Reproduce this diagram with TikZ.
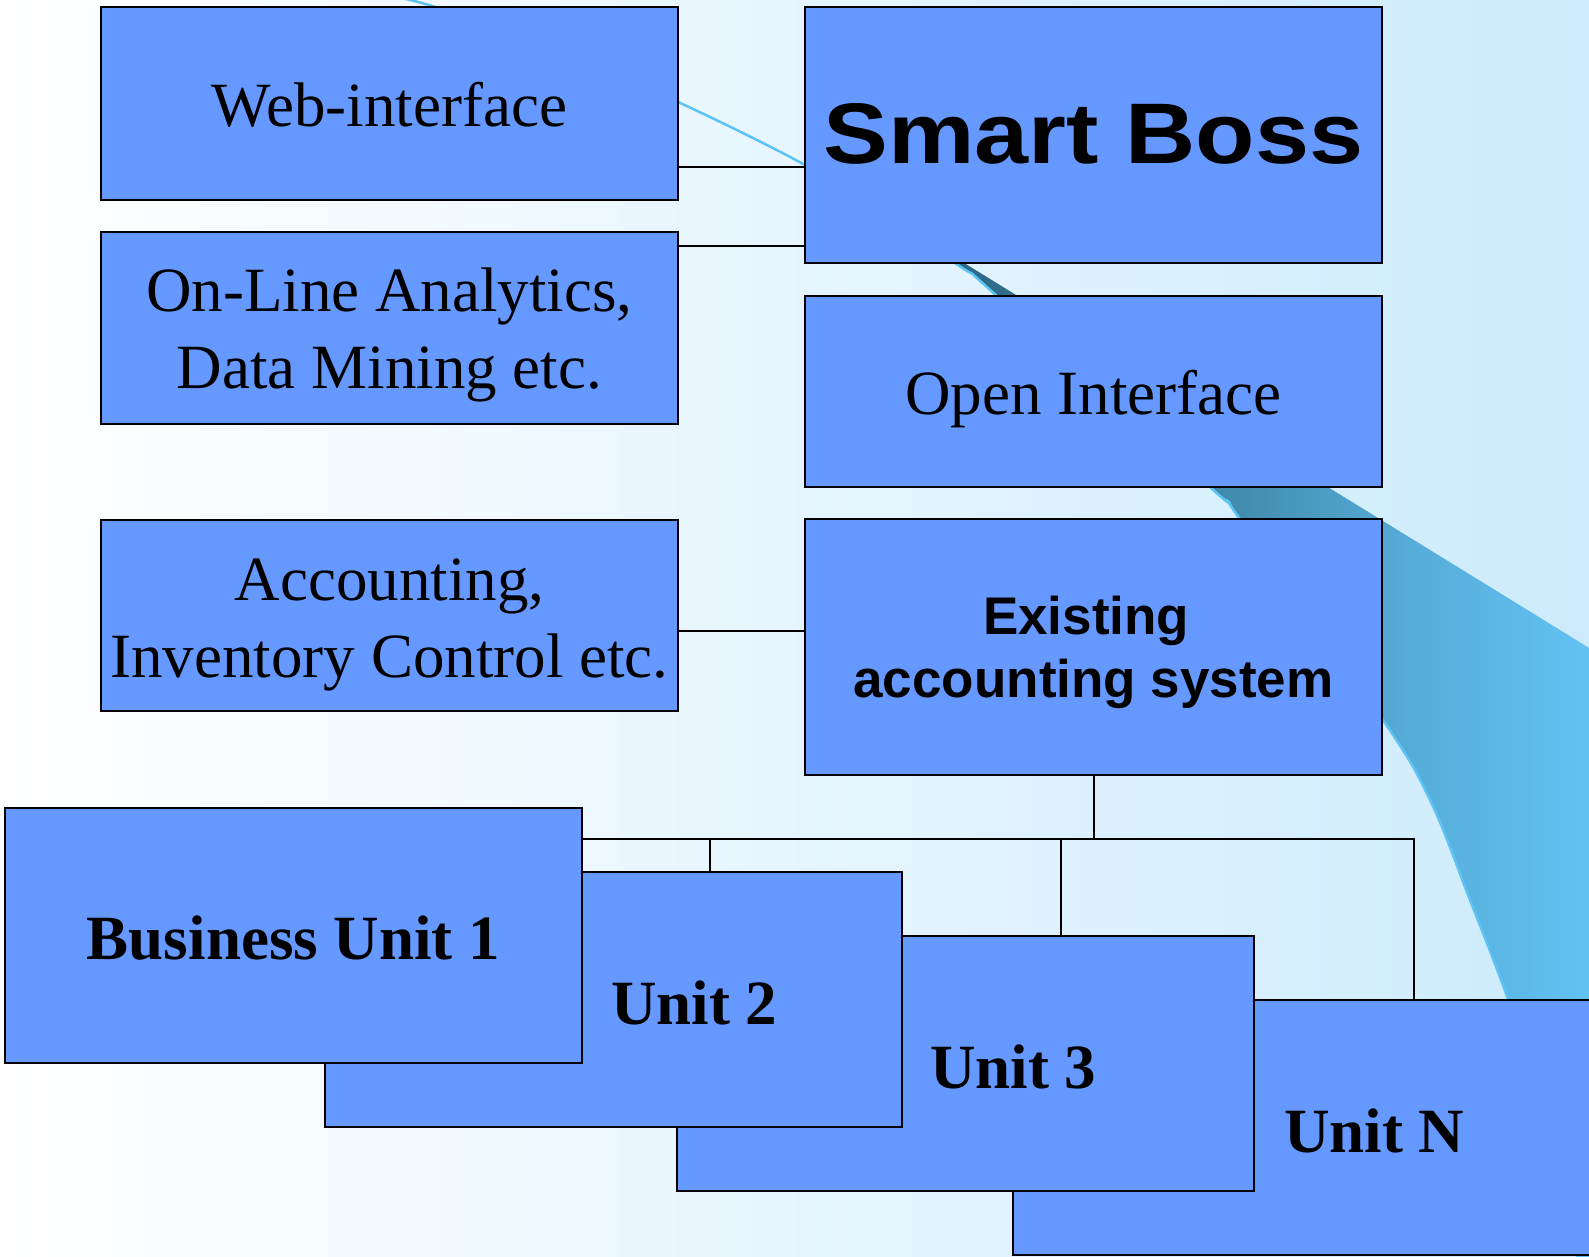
\documentclass[tikz,border=0pt]{standalone}
\usepackage{tikz}
\usepackage{fontspec}
\setmainfont{Liberation Serif}
\setsansfont{Liberation Sans}
\newfontfamily\sbfont[FakeStretch=1.13]{Liberation Sans Bold}
\definecolor{boxblue}{HTML}{6699FF}
\definecolor{bgR}{HTML}{CDEBFC}
\definecolor{swA}{HTML}{2E6A8A}
\definecolor{swB}{HTML}{3F88A8}
\definecolor{swC}{HTML}{56ACD8}
\definecolor{swD}{HTML}{64C6F6}
\definecolor{swLine}{HTML}{5CC4F4}
\pgfdeclarehorizontalshading{swoosh}{100bp}{color(0bp)=(swA); color(36bp)=(swA); color(50bp)=(swB); color(62bp)=(swC); color(75bp)=(swD); color(100bp)=(swD)}
\newcommand{\topstrut}[1]{\rule{0pt}{#1}}
\newcommand{\botstrut}[1]{\rule[-#1]{0pt}{#1}}
\tikzset{
  box/.style={draw=black, line width=2pt, fill=boxblue, rectangle, inner sep=0pt, outer sep=0pt,
    minimum width=577pt, anchor=north west, align=center, font=\fontsize{63}{77}\selectfont},
  conn/.style={draw=black, line width=2pt},
  unitlabel/.style={anchor=base west, inner sep=0pt, font=\bfseries\fontsize{63}{77}\selectfont},
  swedge/.style={draw=swLine, line width=2.5pt},
}
\begin{document}
\begin{tikzpicture}[x=1pt,y=-1pt]
\useasboundingbox (0,0) rectangle (1589,1257);
\begin{scope}
\clip (0,0) rectangle (1589,1257);
% background
\shade[left color=white, right color=bgR] (0,0) rectangle (1589,1257);
% swoosh
\draw[swedge] plot[smooth, tension=0.6] coordinates {(360,-10) (432,6) (560,52) (678,102) (805,165) (880,213)};
\shade[shading=swoosh] plot[smooth, tension=0.6] coordinates {(805,165) (955,263) (997,296) (1210,487) (1240,519) (1381,717) (1430,800) (1470,900) (1508,999) (1545,1110) (1580,1270)} -- (1620,1270) -- (1620,667) -- cycle;
\draw[swedge] plot[smooth, tension=0.6] coordinates {(805,165) (955,263) (997,296) (1210,487) (1240,519) (1381,717) (1430,800) (1470,900) (1508,999) (1545,1110) (1580,1270)};

% boxes
\node[box, minimum height=193pt] (web) at (101,7) {\topstrut{60pt}Web-interface\botstrut{13pt}};
\node[box, minimum height=192pt] (ola) at (101,232) {\topstrut{58pt}On-Line Analytics,\\Data Mining etc.\botstrut{13pt}};
\node[box, minimum height=191pt] (acc) at (101,520) {\topstrut{61pt}Accounting,\\Inventory Control etc.\botstrut{13pt}};
\node[box, minimum height=256pt, font=\sbfont\fontsize{86}{100}\selectfont] (sb) at (805,7) {\topstrut{70pt}Smart Boss\botstrut{12pt}};
\node[box, minimum height=191pt] (oi) at (805,296) {\topstrut{60pt}Open Interface\botstrut{13pt}};
\node[box, minimum height=256pt, font=\sffamily\bfseries\fontsize{53}{63}\selectfont] (ex) at (805,519) {\topstrut{50pt}Existing\hspace*{0.278em}\\accounting system\botstrut{12pt}};

\node[box, minimum height=255pt] (uN) at (1013,1000) {};
\node[box, minimum height=255pt] (u3) at (677,936) {};
\node[box, minimum height=255pt] (u2) at (325,872) {};
\node[box, minimum height=255pt, font=\bfseries\fontsize{63}{77}\selectfont] (bu1) at (5,808) {\topstrut{60pt}Business Unit 1\botstrut{13pt}};
\node[unitlabel] (u2t) at (611,1024) {Unit 2};
\node[unitlabel] (u3t) at (930,1088) {Unit 3};
\node[unitlabel] (uNt) at (1284,1152) {Unit N};

% connectors
\coordinate (w1) at ([yshift=-63.5pt]web.east);
\coordinate (o1) at ([yshift=82pt]ola.east);
\coordinate (a1) at ([yshift=-15.5pt]acc.east);
\draw[conn] (w1) -- (w1 -| sb.west);
\draw[conn] (o1) -- (o1 -| sb.west);
\draw[conn] (a1) -- (a1 -| ex.west);
\coordinate (bus) at (1093.5,839);
\coordinate (j2) at (710,839);
\coordinate (j3) at (1061,839);
\coordinate (jN) at (1414,839);
\draw[conn] (ex.south) -- (bus);
\draw[conn] (bus -| bu1.east) -- (jN) -- (jN |- uN.north);
\draw[conn] (j2) -- (j2 |- u2.north);
\draw[conn] (j3) -- (j3 |- u3.north);
\end{scope}
\end{tikzpicture}
\end{document}
